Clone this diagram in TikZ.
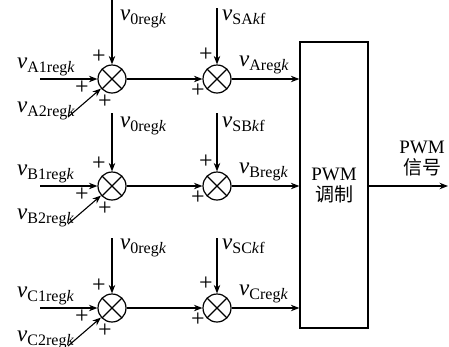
\documentclass[tikz,border=0pt]{standalone}
\usepackage{fontspec}
\setmainfont{Liberation Serif}
\newfontfamily\cjk{Noto Sans CJK SC}
\usetikzlibrary{arrows.meta}
\newcommand{\vsym}[1]{{\fontsize{23}{24}\selectfont\textit{v}}\raisebox{-4.5pt}{\fontsize{16}{17}\selectfont #1}}
\begin{document}
\begin{tikzpicture}[x=1pt,y=-1pt,
  sumnode/.style={circle, draw, line width=1.2pt, minimum size=28pt, inner sep=0pt,
    path picture={\draw[line width=1.2pt] (path picture bounding box.north west) -- (path picture bounding box.south east)
      (path picture bounding box.north east) -- (path picture bounding box.south west);}},
  sig/.style={line width=1.1pt, -{Stealth[length=8.5pt,width=6.5pt]}},
  plus/.style={font=\fontsize{24}{24}\selectfont, inner sep=0pt},
  lab/.style={anchor=base west, inner sep=0pt},
  bigtext/.style={anchor=base, inner sep=0pt, font=\fontsize{19}{21}\selectfont}]
\useasboundingbox (0,0) rectangle (449,346);
\node[draw, line width=1.3pt, minimum width=68pt, minimum height=286pt, inner sep=0pt] (box) at (334,185) {};
\node[bigtext] (bt1) at (334,180) {PWM};
\node[bigtext] (bt2) at (334,201) {\cjk 调制};
\coordinate (out) at (448,186);
\draw[sig] (box.east |- out) -- (out);
\node[bigtext] (ot1) at (422,153) {PWM};
\node[bigtext] (ot2) at (422,174) {\cjk 信号};
\foreach \R/\y/\ta/\tb in {A/79/0/8, B/186/113/113, C/308/238/238} {
  \node[sumnode] (p\R) at (112,\y) {};
  \node[sumnode] (q\R) at (217,\y) {};
  \coordinate (t1\R) at (112,\ta);
  \coordinate (t2\R) at (217,\tb);
  \coordinate (in1\R) at (40,\y);
  \coordinate (in2\R) at (68,\y+38);
  \draw[sig] (t1\R) -- (p\R);
  \draw[sig] (t2\R) -- (q\R);
  \draw[sig] (in1\R) -- (p\R);
  \draw[sig] (in2\R) -- (p\R);
  \draw[sig] (p\R) -- (q\R);
  \draw[sig] (q\R) -- (box.west |- q\R);
  \node[lab] (l0\R) at (120,\y-59) {\vsym{0reg\textit{k}}};
  \node[lab] (l1\R) at (17,\y-11) {\vsym{\R1reg\textit{k}}};
  \node[lab] (l2\R) at (17,\y+33) {\vsym{\R2reg\textit{k}}};
  \node[lab] (ls\R) at (222,\y-59) {\vsym{S\R\textit{k}f}};
  \node[lab] (lo\R) at (239,\y-13) {\vsym{\R reg\textit{k}}};
  \node[plus] (pa\R) at (99,\y-22) {+};
  \node[plus] (pb\R) at (82,\y+9) {+};
  \node[plus] (pc\R) at (105,\y+23) {+};
  \node[plus] (qa\R) at (206,\y-24) {+};
  \node[plus] (qb\R) at (198,\y+12) {+};
}
\end{tikzpicture}
\end{document}
